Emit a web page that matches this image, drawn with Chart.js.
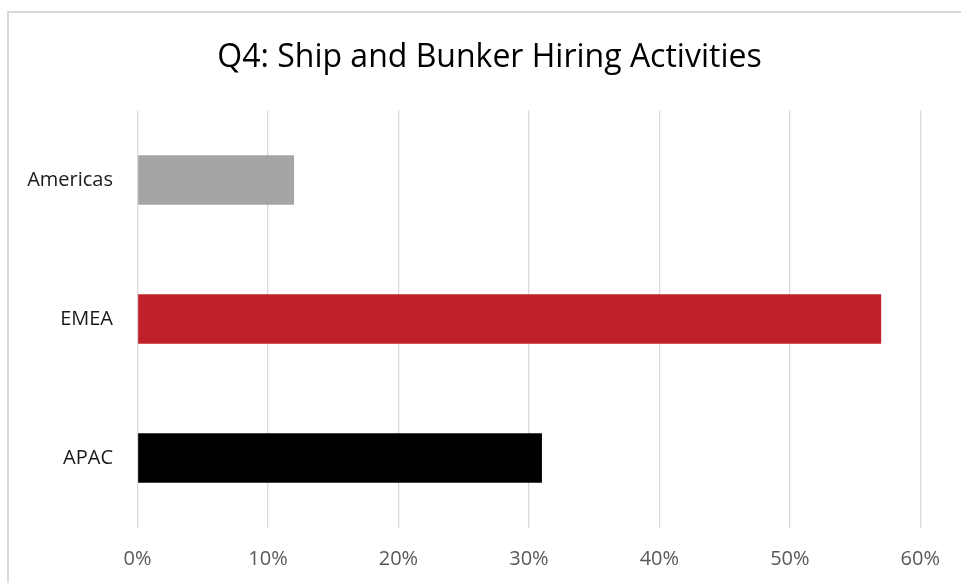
<!DOCTYPE html>
<html>
<head>
    <title>Q4: Ship and Bunker Hiring Activities</title>
    <script src="https://cdn.jsdelivr.net/npm/chart.js"></script>
    <style>
        body { margin: 0; background: #fff; overflow: hidden; }
        #marco {
            position: absolute; left: 7px; top: 11px;
            width: 1000px; height: 650px;
            border: 2px solid #d9d9d9;
        }
        #chart-container { position: absolute; left: 0; top: 0; width: 961px; height: 583px; }
    </style>
</head>
<body>
    <div id="marco"></div>
    <div id="chart-container">
        <canvas id="bar-chart" width="961" height="583"></canvas>
    </div>

    <script>
        // datos
        var regiones = ['Americas', 'EMEA', 'APAC'];
        var porcentajes = [12, 57, 31];
        var colores = ['#a5a5a5', '#c0202a', '#000000'];
        var marcasX = [0, 10, 20, 30, 40, 50, 60];

        var ctx = document.getElementById('bar-chart').getContext('2d');

        // el titulo del original esta centrado un poco a la derecha
        var moverTitulo = {
            id: 'moverTitulo',
            afterLayout: function(chart) {
                if (chart.titleBlock) {
                    chart.titleBlock.left = 58.7;
                }
            }
        };

        var chart = new Chart(ctx, {
            type: 'bar',
            data: {
                labels: regiones,
                datasets: [{
                    label: 'Q4',
                    data: porcentajes,
                    backgroundColor: colores,
                    borderWidth: 0,
                    categoryPercentage: 1,
                    barPercentage: 0.357
                }]
            },
            options: {
                indexAxis: 'y',
                responsive: false,
                animation: false,
                layout: { padding: { left: 0, right: 40.7, top: 0, bottom: 0 } },
                plugins: {
                    legend: { display: false },
                    tooltip: { enabled: false },
                    title: {
                        display: true,
                        text: 'Q4: Ship and Bunker Hiring Activities',
                        color: '#000',
                        font: { family: 'Open Sans', size: 32, weight: 'normal' },
                        padding: { top: 38.8, bottom: 33.3 }
                    }
                },
                scales: {
                    x: {
                        min: 0,
                        max: 60,
                        afterBuildTicks: function(axis) {
                            axis.ticks = marcasX.map(function(v) { return { value: v }; });
                        },
                        afterFit: function(axis) { axis.height = 55.5; },
                        grid: { color: '#d9d9d9', lineWidth: 1.3, drawTicks: false },
                        border: { display: false },
                        ticks: {
                            padding: 19.5,
                            color: '#595959',
                            font: { family: 'Open Sans', size: 20 },
                            callback: function(v) { return v + '%'; }
                        }
                    },
                    y: {
                        afterFit: function(axis) { axis.width = 137.5; },
                        grid: { display: false, drawTicks: false },
                        border: { display: false },
                        ticks: {
                            padding: 24.5,
                            color: '#1a1a1a',
                            font: { family: 'Open Sans', size: 20 }
                        }
                    }
                }
            },
            plugins: [moverTitulo]
        });
    </script>
</body>
</html>
